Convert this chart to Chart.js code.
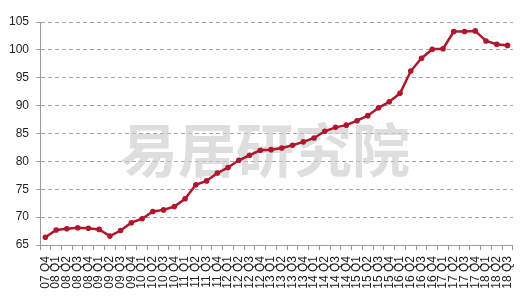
<!DOCTYPE html>
<html>
<head>
<meta charset="utf-8">
<script src="https://cdn.jsdelivr.net/npm/chart.js@4"></script>
<style>
    html, body { margin: 0; padding: 0; background: #fff; }
    #wrap { width: 528px; height: 300px; }
</style>
</head>
<body>
<div id="wrap"><canvas id="priceChart" width="528" height="300"></canvas></div>
<script>
// quarterly labels, 07Q4 .. 18Q3
const quarters = [
    '07 Q4',
    '08 Q1', '08 Q2', '08 Q3', '08 Q4',
    '09 Q1', '09 Q2', '09 Q3', '09 Q4',
    '10 Q1', '10 Q2', '10 Q3', '10 Q4',
    '11 Q1', '11 Q2', '11 Q3', '11 Q4',
    '12 Q1', '12 Q2', '12 Q3', '12 Q4',
    '13 Q1', '13 Q2', '13 Q3', '13 Q4',
    '14 Q1', '14 Q2', '14 Q3', '14 Q4',
    '15 Q1', '15 Q2', '15 Q3', '15 Q4',
    '16 Q1', '16 Q2', '16 Q3', '16 Q4',
    '17 Q1', '17 Q2', '17 Q3', '17 Q4',
    '18 Q1', '18 Q2', '18 Q3'
];

const indexValues = [
    66.4,
    67.7, 67.9, 68.1, 68.0,
    67.8, 66.6, 67.6, 69.0,
    69.7, 71.0, 71.3, 71.9,
    73.3, 75.8, 76.5, 77.9,
    78.9, 80.2, 81.1, 82.0,
    82.1, 82.4, 82.9, 83.5,
    84.2, 85.4, 86.1, 86.5,
    87.3, 88.2, 89.6, 90.7,
    92.2, 96.2, 98.5, 100.1,
    100.2, 103.3, 103.3, 103.4,
    101.6, 101.0, 100.8
];

const yTicks = { min: 65, max: 105, step: 5 };
const watermark = '易居研究院';

const lineRed = '#b0172c';

// light grey watermark behind the line
const watermarkPlugin = {
    id: 'watermark',
    beforeDatasetsDraw(chart) {
        const ctx = chart.ctx;
        ctx.save();
        ctx.font = 'bold 58px "Noto Sans CJK SC"';
        ctx.fillStyle = 'rgba(205, 205, 205, 0.65)';
        ctx.textAlign = 'center';
        ctx.textBaseline = 'middle';
        ctx.fillText(watermark, 265, 150);
        ctx.restore();
    }
};

const ctx = document.getElementById('priceChart').getContext('2d');

new Chart(ctx, {
    type: 'line',
    data: {
        labels: quarters,
        datasets: [{
            data: indexValues,
            borderColor: lineRed,
            backgroundColor: lineRed,
            borderWidth: 2.5,
            pointRadius: 2.8,
            pointBorderWidth: 0,
            tension: 0
        }]
    },
    options: {
        responsive: false,
        animation: false,
        layout: { padding: { top: 22, right: 9, left: 0, bottom: 0 } },
        plugins: {
            legend: { display: false },
            tooltip: { enabled: false }
        },
        scales: {
            x: {
                offset: true,
                grid: {
                    offset: true,
                    drawOnChartArea: false,
                    drawTicks: true,
                    tickLength: 5,
                    color: '#9a9a9a'
                },
                border: { color: '#9a9a9a', width: 1 },
                ticks: {
                    autoSkip: false,
                    minRotation: 90,
                    maxRotation: 90,
                    padding: 6,
                    color: '#222',
                    font: { family: 'Liberation Sans', size: 12 }
                },
                afterFit(scale) { scale.height = 55; }
            },
            y: {
                min: yTicks.min,
                max: yTicks.max,
                grid: {
                    color: '#a6a6a6',
                    tickLength: 4,
                    lineWidth: 1
                },
                border: { color: '#9a9a9a', width: 1, dash: [4, 3] },
                ticks: {
                    stepSize: yTicks.step,
                    padding: 7,
                    color: '#222',
                    font: { family: 'Liberation Sans', size: 12 }
                },
                afterFit(scale) { scale.width = 40; }
            }
        }
    },
    plugins: [watermarkPlugin]
});
</script>
</body>
</html>
